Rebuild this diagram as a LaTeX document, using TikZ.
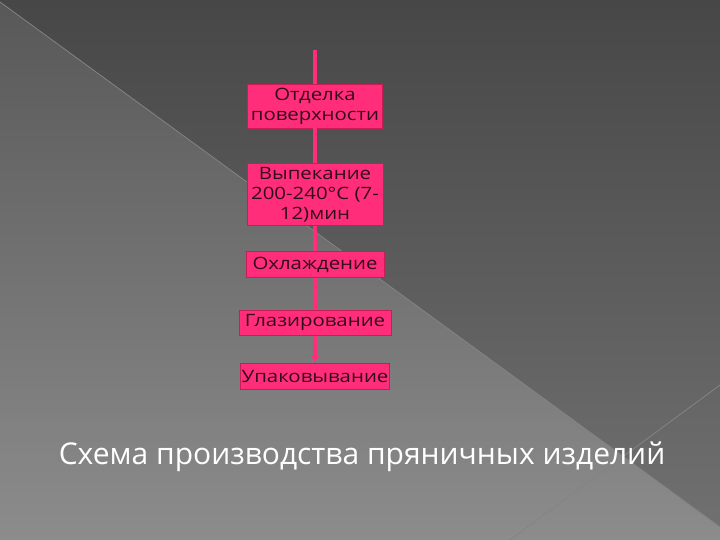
\documentclass[tikz,border=0pt]{standalone}
\usepackage{fontspec}
\setmainfont{Open Sans}
\newfontfamily\stagefont[FakeStretch=1.2]{Open Sans}
\usetikzlibrary{positioning,arrows.meta}

\definecolor{boxpink}{RGB}{255,45,122}
\definecolor{boxedge}{RGB}{200,30,85}
\definecolor{boxtext}{RGB}{50,12,28}
\definecolor{bgdark}{RGB}{71,71,71}
\definecolor{bgdarkend}{RGB}{112,112,112}
\definecolor{bgtop}{RGB}{88,88,88}
\definecolor{bgbottom}{RGB}{140,140,140}
\definecolor{seam}{RGB}{132,132,132}

\begin{document}
\begin{tikzpicture}[x=1pt,y=-1pt,
	stage/.style={draw=boxedge, line width=0.8pt, fill=boxpink, text=boxtext,
		align=center, inner sep=1pt, minimum height=26pt,
		font=\stagefont\fontsize{17}{20}\selectfont},
	flow/.style={draw=boxpink, line width=3.5pt},
	seamline/.style={draw=seam, line width=0.8pt}]
	
	% background
	\useasboundingbox (0,0) rectangle (720,540);
	\shade[top color=bgtop, bottom color=bgbottom] (0,0) rectangle (720,540);
	\shade[top color=bgdark, bottom color=bgdarkend] (0,2) -- (0,0) -- (720,0) -- (720,527) -- cycle;
	\draw[seamline] (0,2) -- (720,527);
	\draw[seamline] (510,540) -- (720,385);
	
	\coordinate (start) at (315,50);
	\node[stage, minimum width=135pt, minimum height=44pt] (otdelka) at (315,106) {Отделка\\поверхности};
	\node[stage, minimum width=136pt, minimum height=62pt, below=35pt of otdelka] (vypekanie) {Выпекание\\200-240°С (7-\\12)мин};
	\node[stage, minimum width=138pt, below=25pt of vypekanie] (ohlazhd) {Охлаждение};
	\node[stage, minimum width=152pt, minimum height=25pt, below=32pt of ohlazhd] (glazir) {Глазирование};
	\node[stage, minimum width=146pt, below=27pt of glazir] (upakov) {Упаковывание};
	
	\node[text=white, font=\fontsize{30}{36}\selectfont] (title) at (362,457) {Схема производства пряничных изделий};
	
	\draw[flow] (start) -- (otdelka);
	\draw[flow] (otdelka) -- (vypekanie);
	\draw[flow] (vypekanie) -- (ohlazhd);
	\draw[flow] (ohlazhd) -- (glazir);
	\draw[flow, -{Latex[length=7pt,width=9pt]}] (glazir) -- (upakov);
\end{tikzpicture}
\end{document}
